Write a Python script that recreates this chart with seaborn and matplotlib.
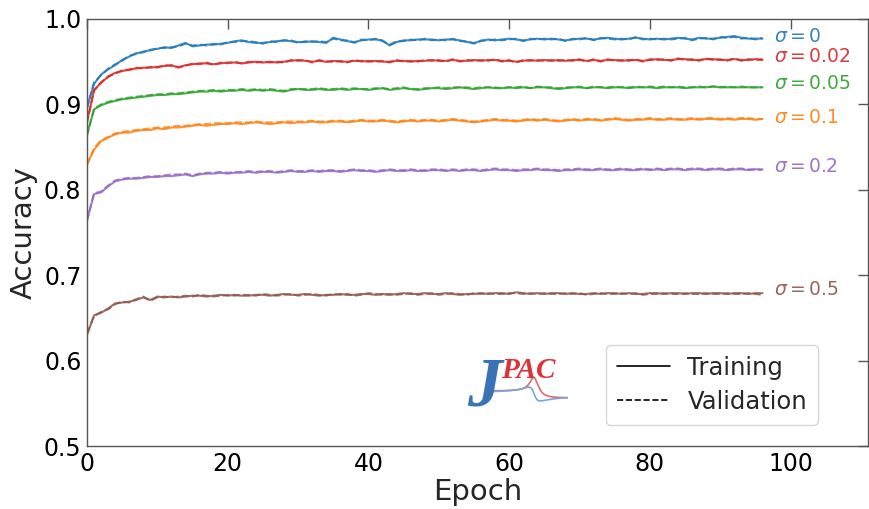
import numpy as np
import pandas as pd
import matplotlib
matplotlib.use("Agg")
import matplotlib.pyplot as plt
from matplotlib.lines import Line2D
import seaborn as sns

# ---------------- data ----------------
sigma_labels = ["0", "0.02", "0.05", "0.1", "0.2", "0.5"]

blue_train = [
    0.897, 0.924, 0.935, 0.941, 0.946, 0.952, 0.956, 0.960, 0.961, 0.964,
    0.965, 0.967, 0.966, 0.969, 0.972, 0.968, 0.969, 0.970, 0.970, 0.971,
    0.972, 0.974, 0.975, 0.973, 0.972, 0.972, 0.973, 0.974, 0.975, 0.974,
    0.973, 0.973, 0.974, 0.973, 0.972, 0.978, 0.976, 0.974, 0.973, 0.975,
    0.976, 0.976, 0.975, 0.969, 0.973, 0.975, 0.975, 0.976, 0.976, 0.976,
    0.975, 0.976, 0.976, 0.975, 0.973, 0.972, 0.974, 0.976, 0.975, 0.976,
    0.977, 0.976, 0.975, 0.976, 0.977, 0.976, 0.977, 0.976, 0.975, 0.976,
    0.977, 0.977, 0.976, 0.977, 0.978, 0.977, 0.976, 0.977, 0.978, 0.977,
    0.976, 0.977, 0.976, 0.977, 0.978, 0.977, 0.976, 0.978, 0.977, 0.977,
    0.978, 0.979, 0.980, 0.978, 0.977, 0.977, 0.977]
blue_val = [
    0.895, 0.926, 0.934, 0.942, 0.947, 0.951, 0.957, 0.959, 0.962, 0.963,
    0.966, 0.966, 0.967, 0.968, 0.971, 0.969, 0.970, 0.969, 0.971, 0.970,
    0.973, 0.973, 0.974, 0.974, 0.973, 0.971, 0.974, 0.973, 0.975, 0.975,
    0.972, 0.974, 0.973, 0.974, 0.973, 0.977, 0.975, 0.975, 0.972, 0.976,
    0.975, 0.977, 0.974, 0.970, 0.974, 0.974, 0.976, 0.975, 0.977, 0.975,
    0.976, 0.975, 0.977, 0.974, 0.974, 0.971, 0.975, 0.975, 0.976, 0.975,
    0.976, 0.977, 0.974, 0.977, 0.976, 0.977, 0.976, 0.977, 0.974, 0.977,
    0.976, 0.978, 0.975, 0.978, 0.977, 0.976, 0.977, 0.976, 0.979, 0.976,
    0.977, 0.976, 0.977, 0.976, 0.977, 0.978, 0.975, 0.977, 0.978, 0.976,
    0.979, 0.978, 0.979, 0.977, 0.978, 0.976, 0.978]

red_train = [
    0.880, 0.916, 0.926, 0.932, 0.937, 0.939, 0.941, 0.942, 0.943, 0.943,
    0.944, 0.945, 0.946, 0.943, 0.946, 0.947, 0.948, 0.948, 0.947, 0.948,
    0.949, 0.949, 0.948, 0.949, 0.950, 0.949, 0.950, 0.949, 0.950, 0.951,
    0.952, 0.951, 0.950, 0.951, 0.950, 0.951, 0.950, 0.950, 0.951, 0.951,
    0.950, 0.951, 0.950, 0.950, 0.951, 0.951, 0.950, 0.951, 0.951, 0.952,
    0.951, 0.951, 0.952, 0.951, 0.951, 0.952, 0.951, 0.952, 0.952, 0.951,
    0.951, 0.950, 0.951, 0.952, 0.951, 0.952, 0.951, 0.952, 0.951, 0.952,
    0.952, 0.951, 0.952, 0.951, 0.952, 0.952, 0.951, 0.952, 0.952, 0.951,
    0.952, 0.953, 0.952, 0.952, 0.953, 0.953, 0.952, 0.952, 0.953, 0.953,
    0.952, 0.952, 0.953, 0.952, 0.952, 0.953, 0.952]
red_val = [
    0.878, 0.917, 0.925, 0.933, 0.936, 0.940, 0.940, 0.943, 0.942, 0.944,
    0.943, 0.946, 0.945, 0.944, 0.945, 0.948, 0.947, 0.949, 0.946, 0.949,
    0.948, 0.950, 0.948, 0.950, 0.949, 0.950, 0.949, 0.950, 0.949, 0.952,
    0.951, 0.952, 0.949, 0.952, 0.950, 0.950, 0.951, 0.949, 0.952, 0.950,
    0.951, 0.950, 0.951, 0.949, 0.952, 0.950, 0.951, 0.950, 0.952, 0.951,
    0.952, 0.950, 0.953, 0.950, 0.952, 0.951, 0.952, 0.951, 0.953, 0.950,
    0.952, 0.949, 0.952, 0.951, 0.952, 0.951, 0.952, 0.951, 0.952, 0.951,
    0.953, 0.950, 0.953, 0.950, 0.953, 0.951, 0.952, 0.951, 0.953, 0.950,
    0.953, 0.952, 0.953, 0.951, 0.954, 0.952, 0.953, 0.951, 0.954, 0.952,
    0.953, 0.951, 0.954, 0.951, 0.953, 0.952, 0.953]

green_train = [
    0.865, 0.894, 0.899, 0.902, 0.904, 0.906, 0.907, 0.908, 0.909, 0.910,
    0.911, 0.911, 0.912, 0.912, 0.913, 0.914, 0.915, 0.915, 0.916, 0.915,
    0.916, 0.916, 0.917, 0.916, 0.917, 0.916, 0.917, 0.916, 0.915, 0.917,
    0.918, 0.917, 0.917, 0.918, 0.917, 0.917, 0.918, 0.917, 0.918, 0.918,
    0.917, 0.918, 0.919, 0.917, 0.918, 0.919, 0.918, 0.917, 0.918, 0.919,
    0.919, 0.918, 0.919, 0.920, 0.919, 0.918, 0.919, 0.920, 0.919, 0.919,
    0.920, 0.919, 0.920, 0.919, 0.920, 0.920, 0.919, 0.918, 0.919, 0.920,
    0.920, 0.919, 0.920, 0.920, 0.919, 0.920, 0.920, 0.919, 0.920, 0.920,
    0.920, 0.919, 0.920, 0.920, 0.920, 0.919, 0.920, 0.920, 0.920, 0.921,
    0.920, 0.920, 0.920, 0.920, 0.920, 0.920, 0.920]
green_val = [
    0.863, 0.895, 0.900, 0.903, 0.905, 0.907, 0.908, 0.909, 0.910, 0.911,
    0.912, 0.912, 0.913, 0.913, 0.914, 0.915, 0.916, 0.916, 0.917, 0.916,
    0.917, 0.917, 0.918, 0.917, 0.918, 0.917, 0.918, 0.917, 0.916, 0.918,
    0.918, 0.918, 0.918, 0.919, 0.918, 0.918, 0.919, 0.918, 0.919, 0.918,
    0.918, 0.919, 0.919, 0.918, 0.919, 0.920, 0.918, 0.918, 0.919, 0.919,
    0.920, 0.919, 0.920, 0.920, 0.920, 0.919, 0.920, 0.920, 0.920, 0.919,
    0.920, 0.920, 0.921, 0.919, 0.921, 0.920, 0.920, 0.919, 0.920, 0.920,
    0.921, 0.919, 0.921, 0.920, 0.920, 0.921, 0.920, 0.920, 0.921, 0.920,
    0.921, 0.920, 0.921, 0.920, 0.921, 0.920, 0.920, 0.921, 0.920, 0.921,
    0.920, 0.921, 0.920, 0.921, 0.920, 0.920, 0.920]

orange_train = [
    0.830, 0.847, 0.857, 0.861, 0.865, 0.867, 0.867, 0.869, 0.870, 0.870,
    0.872, 0.871, 0.873, 0.873, 0.874, 0.875, 0.876, 0.875, 0.876, 0.877,
    0.877, 0.878, 0.877, 0.878, 0.879, 0.878, 0.877, 0.878, 0.879, 0.878,
    0.879, 0.879, 0.880, 0.879, 0.879, 0.880, 0.880, 0.879, 0.880, 0.881,
    0.880, 0.880, 0.881, 0.880, 0.879, 0.880, 0.881, 0.880, 0.881, 0.881,
    0.880, 0.881, 0.882, 0.881, 0.880, 0.879, 0.880, 0.881, 0.882, 0.881,
    0.881, 0.880, 0.881, 0.882, 0.881, 0.882, 0.881, 0.880, 0.881, 0.882,
    0.881, 0.882, 0.882, 0.881, 0.882, 0.883, 0.882, 0.881, 0.882, 0.882,
    0.883, 0.882, 0.882, 0.883, 0.882, 0.882, 0.883, 0.882, 0.883, 0.883,
    0.882, 0.883, 0.882, 0.883, 0.883, 0.882, 0.883]
orange_val = [
    0.829, 0.849, 0.858, 0.862, 0.866, 0.868, 0.869, 0.870, 0.871, 0.872,
    0.873, 0.873, 0.874, 0.875, 0.875, 0.876, 0.877, 0.877, 0.878, 0.878,
    0.878, 0.879, 0.879, 0.879, 0.880, 0.879, 0.879, 0.879, 0.880, 0.880,
    0.880, 0.880, 0.881, 0.880, 0.880, 0.881, 0.881, 0.880, 0.881, 0.882,
    0.881, 0.881, 0.882, 0.881, 0.880, 0.881, 0.882, 0.881, 0.882, 0.882,
    0.881, 0.882, 0.883, 0.882, 0.881, 0.880, 0.881, 0.882, 0.883, 0.882,
    0.882, 0.881, 0.882, 0.883, 0.882, 0.883, 0.882, 0.881, 0.882, 0.883,
    0.882, 0.883, 0.883, 0.882, 0.883, 0.884, 0.883, 0.882, 0.883, 0.883,
    0.884, 0.883, 0.883, 0.884, 0.883, 0.883, 0.884, 0.883, 0.884, 0.884,
    0.883, 0.884, 0.883, 0.884, 0.884, 0.883, 0.883]

purple_train = [
    0.765, 0.795, 0.797, 0.804, 0.810, 0.812, 0.813, 0.813, 0.814, 0.815,
    0.815, 0.816, 0.816, 0.817, 0.818, 0.816, 0.818, 0.819, 0.819, 0.820,
    0.819, 0.820, 0.820, 0.821, 0.820, 0.821, 0.821, 0.820, 0.821, 0.822,
    0.821, 0.821, 0.822, 0.821, 0.822, 0.822, 0.821, 0.822, 0.823, 0.822,
    0.822, 0.821, 0.822, 0.823, 0.822, 0.822, 0.823, 0.822, 0.822, 0.823,
    0.823, 0.822, 0.823, 0.822, 0.823, 0.823, 0.822, 0.823, 0.824, 0.823,
    0.823, 0.822, 0.823, 0.823, 0.824, 0.823, 0.823, 0.822, 0.823, 0.823,
    0.824, 0.823, 0.823, 0.824, 0.823, 0.823, 0.824, 0.823, 0.823, 0.824,
    0.823, 0.824, 0.823, 0.824, 0.824, 0.823, 0.824, 0.824, 0.823, 0.824,
    0.824, 0.823, 0.824, 0.824, 0.823, 0.824, 0.824]
purple_val = [
    0.763, 0.796, 0.798, 0.805, 0.811, 0.813, 0.814, 0.814, 0.815, 0.816,
    0.816, 0.817, 0.818, 0.818, 0.819, 0.817, 0.819, 0.820, 0.820, 0.821,
    0.820, 0.821, 0.821, 0.822, 0.821, 0.822, 0.822, 0.821, 0.822, 0.823,
    0.822, 0.822, 0.823, 0.822, 0.823, 0.823, 0.822, 0.823, 0.824, 0.823,
    0.823, 0.822, 0.823, 0.824, 0.823, 0.823, 0.824, 0.823, 0.823, 0.824,
    0.824, 0.823, 0.824, 0.823, 0.824, 0.824, 0.823, 0.824, 0.825, 0.824,
    0.824, 0.823, 0.824, 0.824, 0.825, 0.824, 0.824, 0.823, 0.824, 0.824,
    0.825, 0.824, 0.824, 0.825, 0.824, 0.824, 0.825, 0.824, 0.824, 0.825,
    0.824, 0.825, 0.824, 0.825, 0.825, 0.824, 0.825, 0.825, 0.824, 0.825,
    0.825, 0.824, 0.825, 0.825, 0.824, 0.824, 0.823]

brown_train = [
    0.630, 0.653, 0.656, 0.661, 0.667, 0.668, 0.669, 0.671, 0.674, 0.671,
    0.675, 0.674, 0.675, 0.674, 0.675, 0.676, 0.676, 0.675, 0.676, 0.677,
    0.676, 0.677, 0.676, 0.676, 0.677, 0.677, 0.676, 0.677, 0.678, 0.677,
    0.677, 0.678, 0.677, 0.676, 0.677, 0.677, 0.678, 0.677, 0.677, 0.678,
    0.678, 0.677, 0.678, 0.677, 0.678, 0.679, 0.678, 0.678, 0.679, 0.678,
    0.678, 0.679, 0.678, 0.677, 0.678, 0.678, 0.679, 0.678, 0.679, 0.679,
    0.678, 0.680, 0.679, 0.678, 0.679, 0.678, 0.679, 0.679, 0.678, 0.679,
    0.678, 0.678, 0.679, 0.678, 0.679, 0.679, 0.678, 0.679, 0.678, 0.678,
    0.679, 0.679, 0.678, 0.679, 0.679, 0.678, 0.679, 0.679, 0.678, 0.679,
    0.679, 0.678, 0.679, 0.679, 0.678, 0.679, 0.679]
brown_val = [
    0.632, 0.652, 0.657, 0.660, 0.666, 0.669, 0.668, 0.672, 0.675, 0.670,
    0.674, 0.675, 0.674, 0.675, 0.676, 0.675, 0.677, 0.676, 0.675, 0.676,
    0.677, 0.676, 0.677, 0.677, 0.676, 0.678, 0.677, 0.676, 0.677, 0.678,
    0.676, 0.677, 0.678, 0.677, 0.676, 0.678, 0.677, 0.678, 0.676, 0.677,
    0.679, 0.678, 0.677, 0.678, 0.677, 0.678, 0.679, 0.677, 0.678, 0.679,
    0.677, 0.678, 0.679, 0.678, 0.677, 0.679, 0.678, 0.679, 0.678, 0.678,
    0.679, 0.679, 0.678, 0.679, 0.678, 0.679, 0.678, 0.678, 0.679, 0.678,
    0.679, 0.677, 0.678, 0.679, 0.678, 0.678, 0.679, 0.678, 0.679, 0.677,
    0.678, 0.678, 0.679, 0.678, 0.678, 0.679, 0.678, 0.678, 0.679, 0.678,
    0.678, 0.679, 0.678, 0.678, 0.679, 0.678, 0.677]

train_series = [blue_train, red_train, green_train, orange_train, purple_train, brown_train]
val_series = [blue_val, red_val, green_val, orange_val, purple_val, brown_val]

# ---------------- style ----------------
colors = ["#1f77b4", "#d62728", "#2ca02c", "#ff7f0e", "#9467bd", "#8c564b"]
label_y = [0.980, 0.9565, 0.925, 0.885, 0.8275, 0.683]
label_x = 97.6

sns.set_style("white")
plt.rcParams["font.family"] = ["DejaVu Sans"]
plt.rcParams["mathtext.fontset"] = "dejavusans"

fig = plt.figure(figsize=(8.69, 5.09), dpi=100)
ax = fig.add_axes([87 / 869, 63 / 509, 781 / 869, 427 / 509])

for tr, va, c in zip(train_series, val_series, colors):
    d_tr = pd.DataFrame({"Epoch": np.arange(len(tr)), "Accuracy": tr})
    d_va = pd.DataFrame({"Epoch": np.arange(len(va)), "Accuracy": va})
    sns.lineplot(data=d_tr, x="Epoch", y="Accuracy", color=c, lw=1.5,
                 alpha=0.85, ax=ax)
    sns.lineplot(data=d_va, x="Epoch", y="Accuracy", color=c, lw=1.4,
                 alpha=0.8, linestyle="--", ax=ax)

for s, c, yy in zip(sigma_labels, colors, label_y):
    ax.text(label_x, yy, r"$\sigma = %s$" % s, color=c, fontsize=13.5,
            ha="left", va="center", alpha=0.9)

ax.set_xlim(0, 111)
ax.set_ylim(0.5, 1.0)
ax.set_xticks([0, 20, 40, 60, 80, 100])
ax.set_yticks([0.5, 0.6, 0.7, 0.8, 0.9, 1.0])
ax.set_yticklabels(["0.5", "0.6", "0.7", "0.8", "0.9", "1.0"])
ax.tick_params(direction="in", top=True, right=True, length=7, width=1,
               labelsize=17, colors="#555555", labelcolor="black", pad=4)
for sp in ax.spines.values():
    sp.set_color("#555555")
    sp.set_linewidth(1.0)
ax.set_xlabel("Epoch", fontsize=21, labelpad=2)
ax.set_ylabel("Accuracy", fontsize=21, labelpad=4)

handles = [Line2D([], [], color="black", lw=1.2, ls="-"),
           Line2D([], [], color="black", lw=1.2, ls="--")]
leg = ax.legend(handles, ["Training", "Validation"], loc="lower right",
                bbox_to_anchor=(0.936, 0.05), fontsize=17.5, frameon=True,
                handlelength=2.2, borderaxespad=0, borderpad=0.45,
                labelspacing=0.4, handletextpad=0.7, fancybox=True)
leg.get_frame().set_edgecolor("#cccccc")
leg.get_frame().set_linewidth(1.0)

# ---------------- JPAC logo (decoration) ----------------
fig.text(467 / 869, 1 - 406 / 509, "J", fontsize=50, color="#3b72b5",
         family="Liberation Serif", style="italic", weight="bold",
         ha="left", va="baseline")
fig.text(501 / 869, 1 - 378 / 509, "PAC", fontsize=21, color="#d8343a",
         family="Liberation Serif", style="italic", weight="bold",
         ha="left", va="baseline")
lax = fig.add_axes([488 / 869, 1 - 410 / 509, 80 / 869, 40 / 509])
lax.set_axis_off()
px = np.linspace(488, 568, 300)
x0, g = 534.0, 5.0
lor = g ** 2 / ((px - x0) ** 2 + g ** 2)
disp = 2 * g * (px - x0) / ((px - x0) ** 2 + g ** 2)
step = 1 / (1 + np.exp(-(px - x0 - 4) / 3))
red_logo = 391 - 15 * lor + 7 * step
blue_logo = 393 + 6 * disp + 3 * step
lax.plot(px, red_logo, color="#e26a6a", lw=1.2)
lax.plot(px, blue_logo, color="#7aa6d6", lw=1.2)
lax.set_xlim(488, 568)
lax.set_ylim(410, 370)

fig.savefig("out.png", dpi=100)
